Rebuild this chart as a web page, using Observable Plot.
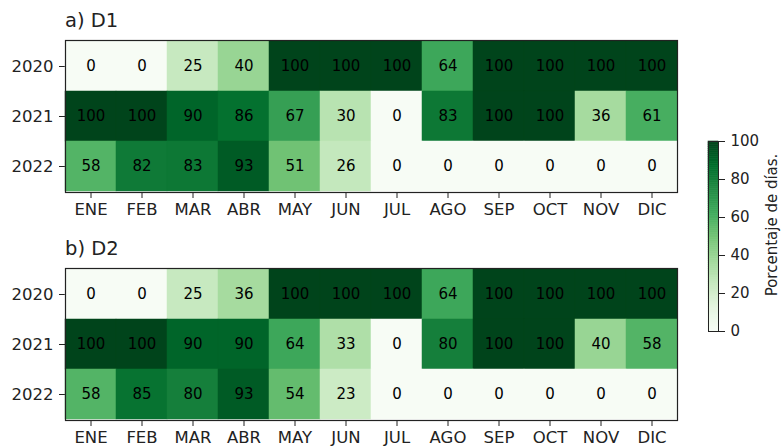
<!DOCTYPE html>
<html>
<head>
<meta charset="utf-8">
<script src="https://cdn.jsdelivr.net/npm/d3@7"></script>
<script src="https://cdn.jsdelivr.net/npm/@observablehq/plot@0.6"></script>
<style>
  html, body { margin: 0; padding: 0; background: #fff; overflow: hidden; }
  #root { position: relative; width: 782px; height: 446px; font-family: "DejaVu Sans", sans-serif; color: #222; }
  .abs { position: absolute; }
  .title { font-size: 19.5px; line-height: 1; }
</style>
</head>
<body>
<div id="root"></div>
<script>
const months = ["ENE","FEB","MAR","ABR","MAY","JUN","JUL","AGO","SEP","OCT","NOV","DIC"];
const years = ["2020","2021","2022"];

const d1_2020 = [0,0,25,40,100,100,100,64,100,100,100,100];
const d1_2021 = [100,100,90,86,67,30,0,83,100,100,36,61];
const d1_2022 = [58,82,83,93,51,26,0,0,0,0,0,0];

const d2_2020 = [0,0,25,36,100,100,100,64,100,100,100,100];
const d2_2021 = [100,100,90,90,64,33,0,80,100,100,40,58];
const d2_2022 = [58,85,80,93,54,23,0,0,0,0,0,0];

const panelTitles = ["a) D1", "b) D2"];
const colorbarTicks = [0,20,40,60,80,100];
const colorbarLabel = "Porcentaje de días.";

const greens = ["#f7fcf5","#e5f5e0","#c7e9c0","#a1d99b","#74c476","#41ab5d","#238b45","#006d2c","#00441b"];
const colorScale = {
  type: "linear",
  domain: greens.map((_, i) => i * 100 / (greens.length - 1)),
  range: greens,
  interpolate: "rgb",
  clamp: true
};

const root = document.getElementById("root");

function panel(rows) {
  const data = years.flatMap((y, i) => months.map((m, j) => ({year: y, month: m, value: rows[i][j]})));
  return Plot.plot({
    width: 690, height: 220,
    marginLeft: 65, marginRight: 13, marginTop: 40, marginBottom: 28,
    style: {fontFamily: "DejaVu Sans", fontSize: "16.5px", color: "#222", background: "transparent"},
    x: {domain: months, padding: 0, label: null, tickSize: 6, tickPadding: 5},
    y: {domain: years, padding: 0, label: null, tickSize: 6, tickPadding: 6},
    color: colorScale,
    marks: [
      Plot.cell(data, {x: "month", y: "year", fill: "value", inset: 0, stroke: "value", strokeWidth: 0.5}),
      Plot.text(data, {x: "month", y: "year", text: d => String(d.value), fill: "black", fontSize: 15}),
      Plot.frame({stroke: "#222", strokeWidth: 1.2})
    ]
  });
}

function place(el, left, top) {
  el.classList.add("abs");
  el.style.left = left + "px";
  el.style.top = top + "px";
  root.appendChild(el);
}

const pA = panel([d1_2020, d1_2021, d1_2022]);
const pB = panel([d2_2020, d2_2021, d2_2022]);
place(pA, 0, 0);
place(pB, 0, 228);

panelTitles.forEach((t, i) => {
  const div = document.createElement("div");
  div.className = "title";
  div.textContent = t;
  place(div, 65, i === 0 ? 11 : 239);
});

// Colorbar
const steps = d3.range(0, 100, 1);
const cb = Plot.plot({
  width: 92, height: 230,
  marginLeft: 18, marginRight: 64, marginTop: 21, marginBottom: 19,
  style: {fontFamily: "DejaVu Sans", fontSize: "15px", color: "#222", background: "transparent"},
  x: {axis: null, domain: [0, 1]},
  y: {domain: [0, 100], axis: null},
  color: colorScale,
  marks: [
    Plot.rect(steps, {x1: 0, x2: 1, y1: d => d, y2: d => d + 1, fill: d => d + 0.5, stroke: d => d + 0.5, strokeWidth: 0.6}),
    Plot.frame({stroke: "#222", strokeWidth: 1}),
    Plot.axisY({anchor: "right", ticks: colorbarTicks, tickSize: 6, tickPadding: 6, label: null})
  ]
});
place(cb, 690, 120);

const lab = document.createElement("div");
lab.textContent = colorbarLabel;
lab.style.fontSize = "15px";
lab.style.whiteSpace = "nowrap";
lab.style.transform = "translate(-50%, -50%) rotate(-90deg)";
lab.style.lineHeight = "1";
place(lab, 772, 225);
</script>
</body>
</html>
